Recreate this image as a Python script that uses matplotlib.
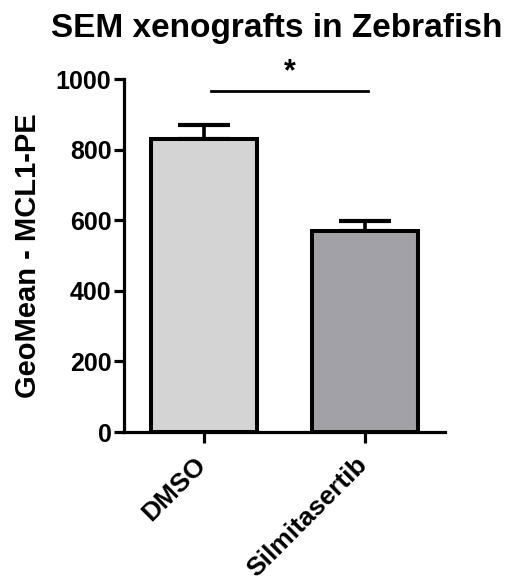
import matplotlib

matplotlib.use("Agg")
import matplotlib.pyplot as plt  # noqa: E402
import matplotlib.transforms as mtransforms  # noqa: E402

plt.rcParams["font.family"] = ["Liberation Sans", "DejaVu Sans"]
plt.rcParams["font.weight"] = "bold"

groups = ["DMSO", "Silmitasertib"]
means = [830, 569]
sem = [40, 29]
colors = ["#d4d4d4", "#a2a1a7"]
sig_y = 966
sig_x = [0.045, 1.02]

fig = plt.figure(figsize=(5.09, 5.76), dpi=100)
ax = fig.add_axes([0.2436, 0.25, 0.6306, 0.6128])

x = range(len(groups))
ax.bar(x, means, width=0.66, color=colors, edgecolor="black", linewidth=2.9, zorder=2)
ax.errorbar(x, means, yerr=[[0, 0], sem], fmt="none", ecolor="black",
            elinewidth=2.6, capsize=19, capthick=3.0, zorder=1)

ax.plot(sig_x, [sig_y, sig_y], color="black", lw=2.0, clip_on=False)
ax.text(sum(sig_x) / 2, sig_y + 12, "*", ha="center", va="bottom",
        fontsize=22, fontweight="bold", clip_on=False)

ax.set_xlim(-0.5, 1.5)
ax.set_ylim(0, 1000)
ax.set_yticks([0, 200, 400, 600, 800, 1000])
ax.set_xticks(list(x))
ax.set_xticklabels(groups, rotation=45, ha="right", rotation_mode="anchor",
                   fontsize=19, fontweight="bold")
ax.tick_params(axis="y", labelsize=18, width=2.3, length=7, pad=2)
ax.tick_params(axis="x", width=2.3, length=8, pad=8)
# nudge rotated labels left so their upper end sits under the tick
shift = mtransforms.ScaledTranslation(-10 / 100, 2 / 100, fig.dpi_scale_trans)
for lab in ax.get_xticklabels():
    lab.set_transform(lab.get_transform() + shift)
for s in ["top", "right"]:
    ax.spines[s].set_visible(False)
for s in ["left", "bottom"]:
    ax.spines[s].set_linewidth(2.3)

ax.set_ylabel("GeoMean - MCL1-PE", fontsize=21, fontweight="bold", labelpad=10)
fig.text(0.543, 0.951, "SEM xenografts in Zebrafish", ha="center", va="center",
         fontsize=24, fontweight="bold")

fig.savefig("out.png", dpi=100)
